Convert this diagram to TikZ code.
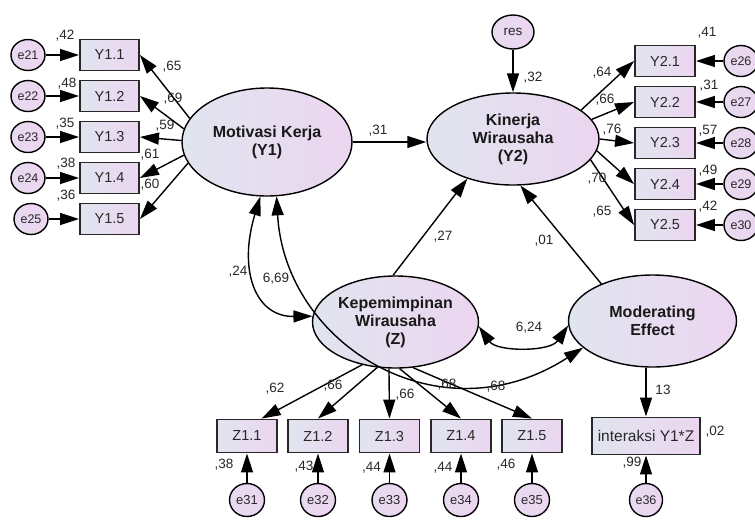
\documentclass[tikz,border=0pt]{standalone}
\usepackage{fontspec}
\setmainfont{Liberation Sans}
\usetikzlibrary{shapes.geometric,arrows.meta}
\definecolor{shadeL}{RGB}{224,229,239}
\definecolor{shadeR}{RGB}{236,213,240}
\definecolor{ink}{RGB}{40,40,40}
\tikzset{
  latent/.style={ellipse,draw=black,line width=1.4pt,left color=shadeL,right color=shadeR,
    inner sep=0pt,align=center,font=\fontsize{16}{18}\selectfont\bfseries,text=black!90},
  obsbox/.style={rectangle,draw=ink,line width=1.9pt,left color=shadeL,right color=shadeR,
    inner sep=0pt,minimum width=60pt,minimum height=31pt,font=\fontsize{14.5}{16}\selectfont,text=ink},
  errc/.style={ellipse,draw=black,line width=1.4pt,left color=shadeR!65!shadeL,right color=shadeR,
    inner sep=0pt,minimum width=34pt,minimum height=31pt,font=\fontsize{12.5}{14}\selectfont,text=ink},
  coef/.style={inner sep=0pt,font=\fontsize{13.5}{15}\selectfont,text=ink},
  regarrow/.style={-{Triangle[length=19pt,width=12pt]},line width=1.4pt},
  covarrow/.style={{Triangle[length=19pt,width=12pt]}-{Triangle[length=19pt,width=12pt]},line width=1.4pt},
}
\begin{document}
\begin{tikzpicture}[x=1pt,y=-1pt]
\useasboundingbox (0,0) rectangle (755,520);
\clip (0,0) rectangle (755,520);

% latent variables
\node[latent,minimum width=170pt,minimum height=108pt] (Y1) at (267,142) {Motivasi Kerja\\(Y1)};
\node[latent,minimum width=172pt,minimum height=92pt] (Y2) at (513,139) {Kinerja\\Wirausaha\\(Y2)};
\node[latent,minimum width=166pt,minimum height=92pt] (Z) at (395.5,322) {Kepemimpinan\\Wirausaha\\(Z)};
\node[latent,minimum width=168pt,minimum height=92pt] (M) at (652.5,321) {Moderating\\Effect};
\node[errc,minimum width=42pt,minimum height=34pt,font=\fontsize{13.5}{15}\selectfont] (res) at (513,32) {res};

% indicators of Y1 with their errors
\foreach \i/\yy/\n/\ex in {1/55/21/28,2/96/22/28,3/137/23/28,4/178/24/28,5/219/25/31}{
  \node[obsbox,minimum width=59pt] (Ya\i) at (109.5,\yy) {Y1.\i};
  \node[errc] (ea\i) at (\ex,\yy) {e\n};
  \draw[regarrow] (ea\i) -- (Ya\i);
}
% indicators of Y2 with their errors
\foreach \i/\yy/\n in {1/61/26,2/102/27,3/143/28,4/184/29,5/225/30}{
  \node[obsbox] (Yb\i) at (665,\yy) {Y2.\i};
  \node[errc] (eb\i) at (741,\yy) {e\n};
  \draw[regarrow] (eb\i) -- (Yb\i);
}
% indicators of Z with their errors
\foreach \i/\xx/\n in {1/247/31,2/318/32,3/389.5/33,4/461/34,5/532/35}{
  \node[obsbox,minimum height=33pt] (Zc\i) at (\xx,436) {Z1.\i};
  \node[errc,minimum width=35pt,minimum height=33pt,font=\fontsize{13}{14}\selectfont] (ec\i) at (\xx,500) {e\n};
  \draw[regarrow] (ec\i) -- (Zc\i);
}
% interaction indicator
\node[obsbox,minimum width=108pt,minimum height=37pt,font=\fontsize{15.5}{17}\selectfont] (Int) at (646,436) {interaksi Y1*Z};
\node[errc,minimum width=33pt,minimum height=33pt] (e36) at (646,500) {e36};
\draw[regarrow] (e36) -- (Int);

% loadings
\foreach \i/\a in {1/163,2/171,3/179,4/189,5/195}{
  \draw[regarrow] (Y1.\a) -- (Ya\i.east);
}
\foreach \i/\a in {1/23,2/14,3/0,4/352,5/345}{
  \draw[regarrow] (Y2.\a) -- (Yb\i.west);
}
\draw[regarrow] (Z.232) -- (Zc1.50);
\foreach \i/\a in {2/248,3/262,4/275,5/291}{
  \draw[regarrow] (Z.\a) -- (Zc\i.north);
}
\draw[regarrow] (M.south -| Int.north) -- (Int.north);

% structural paths
\draw[regarrow] (Y1.east) -- (Y1.east -| Y2.west);
\draw[regarrow] (res) -- (Y2);
\draw[regarrow] (Z.93) -- (Y2.221);
\draw[regarrow] (M.144) -- (Y2.279);

% covariances
\draw[covarrow] (Y1.263) .. controls (238,270) and (255,317) .. (Z.176);
\draw[covarrow] (Y1.280) .. controls (285,345) and (440,440) .. (M.201);
\draw[covarrow] (Z.357) .. controls (497,352) and (550,352) .. (M.183);

% coefficients
\node[coef] (v21) at (65,36) {,42};
\node[coef] (v22) at (67,84) {,48};
\node[coef] (v23) at (65,124) {,35};
\node[coef] (v24) at (66,164) {,38};
\node[coef] (v25) at (66,196) {,36};
\node[coef] (l11) at (172,67) {,65};
\node[coef] (l12) at (173,99) {,69};
\node[coef] (l13) at (165,126) {,59};
\node[coef] (l14) at (150,155) {,61};
\node[coef] (l15) at (150,185) {,60};

\node[coef] (v26) at (707,33) {,41};
\node[coef] (v27) at (709,86) {,31};
\node[coef] (v28) at (708,131) {,57};
\node[coef] (v29) at (708,171) {,49};
\node[coef] (v30) at (708,207) {,42};
\node[coef] (l21) at (602,73) {,64};
\node[coef] (l22) at (605,100) {,66};
\node[coef] (l23) at (612,130) {,76};
\node[coef] (l24) at (597,179) {,70};
\node[coef] (l25) at (602,212) {,65};

\node[coef] (v31) at (224,465) {,38};
\node[coef] (v32) at (304,467) {,43};
\node[coef] (v33) at (371.5,468) {,44};
\node[coef] (v34) at (443,468) {,44};
\node[coef] (v35) at (506,465) {,46};
\node[coef] (l31) at (275,389) {,62};
\node[coef] (l32) at (333,386) {,66};
\node[coef] (l33) at (405,395) {,66};
\node[coef] (l34) at (447,385) {,68};
\node[coef] (l35) at (496,387) {,68};

\node[coef] (p1) at (378,131) {,31};
\node[coef] (p2) at (443,237) {,27};
\node[coef] (p3) at (544,241) {,01};
\node[coef] (r1) at (533,78) {,32};
\node[coef] (c1) at (238,272) {,24};
\node[coef] (c2) at (276,279) {6,69};
\node[coef] (c3) at (529,328) {6,24};
\node[coef] (m1) at (663,390) {13};
\node[coef] (v36) at (715,432) {,02};
\node[coef] (v36b) at (632,463) {,99};
\end{tikzpicture}
\end{document}
